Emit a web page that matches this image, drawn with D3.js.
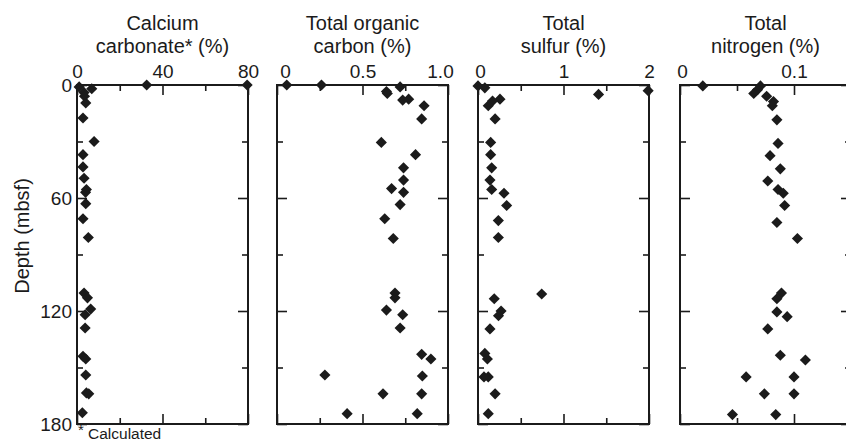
<!DOCTYPE html>
<html>
<head>
<meta charset="utf-8">
<script src="https://cdn.jsdelivr.net/npm/d3@7"></script>
<style>
body{margin:0;background:#fff;}
svg{display:block;font-family:"Liberation Sans",Arial,Helvetica,sans-serif;}
</style>
</head>
<body>
<svg id="chart" width="846" height="442"></svg>
<script>
//depth axis
var depthMajor=[0,60,120,180];
var depthMinor=[30,90,150];

//[depth (mbsf), value]
var caco3=[[0,32.6],[0,79.6],[1,1],[2,6.9],[4,3.3],[6,3.5],[9.5,4.1],[17.5,2.8],[30,8],[37,2.8],[43.5,2.8],[49.5,3.3],[55.5,4.4],[57,4],[63,4.1],[71,2.8],[81,5.3],[110.5,3.3],[113,4.9],[119,6.4],[122,3.8],[129,3.8],[144,2.8],[145.5,4.1],[154,4.1],[163.5,4.4],[164,5.5],[174,2.5]];
var toc=[[0,0.057],[0,0.26],[1,0.72],[3.5,0.64],[4.5,0.645],[7.5,0.77],[8,0.735],[11,0.86],[18,0.846],[30.5,0.61],[37,0.81],[44,0.74],[50.5,0.74],[55,0.67],[57,0.74],[63.5,0.72],[71,0.63],[81.5,0.68],[110.5,0.69],[113,0.69],[119.5,0.64],[122,0.735],[129,0.72],[143,0.846],[145.5,0.9],[154,0.28],[154.5,0.85],[164,0.62],[164,0.846],[174.5,0.41],[174.5,0.82]];
var sulfur=[[0.5,0],[1.5,0.08],[3,1.99],[5,1.41],[7.5,0.257],[8.5,0.17],[11,0.12],[18,0.2],[30.5,0.148],[37,0.148],[44,0.16],[50.5,0.14],[55.5,0.16],[57.5,0.304],[64,0.335],[72,0.238],[81,0.238],[111,0.745],[113.5,0.19],[120,0.27],[122.5,0.24],[129.5,0.14],[142.5,0.08],[145.5,0.11],[155,0.12],[155,0.07],[164,0.2],[174.5,0.12]];
var nitrogen=[[0.5,0.02],[0.5,0.0706],[2.5,0.068],[4.5,0.0647],[6,0.076],[8.8,0.082],[11,0.081],[18.5,0.085],[31,0.086],[37.5,0.079],[44.5,0.088],[51,0.077],[55.5,0.086],[57.5,0.0906],[64,0.0918],[73,0.085],[81.5,0.103],[110.5,0.089],[113.5,0.085],[120.5,0.085],[123,0.094],[129.5,0.077],[143.5,0.088],[146,0.11],[155,0.058],[155,0.1],[164,0.074],[164,0.1],[175,0.046],[175,0.084]];

//panel tick labels
var caco3Major=[0,40,80],caco3Minor=[20,60];
var tocMajor=[0,0.5,1.0],tocMinor=[0.25,0.75];
var sulfurMajor=[0,1,2],sulfurMinor=[0.5,1.5];
var nitrogenMajor=[0,0.1],nitrogenMinor=[0.05,0.15];

var svg=d3.select("#chart");
var ink="#1b1b1b";
var top0=85,bottom0=424;
var y=d3.scaleLinear().domain([0,180]).range([top0,bottom0]);

var panels=[
	{data:caco3,domain:[0,80],x0:77,x1:248,major:caco3Major,minor:caco3Minor,title:["Calcium","carbonate* (%)"],fmt:d3.format("d"),shift:[0,0]},
	{data:toc,domain:[0,1],x0:277,x1:448,major:tocMajor,minor:tocMinor,title:["Total organic","carbon (%)"],fmt:function(d){return d==0?"0":d3.format(".1f")(d);},shift:[8,-8]},
	{data:sulfur,domain:[0,2],x0:478,x1:649,major:sulfurMajor,minor:sulfurMinor,title:["Total","sulfur (%)"],fmt:d3.format("d"),shift:[2,0]},
	{data:nitrogen,domain:[0,0.15],x0:680,x1:851,major:nitrogenMajor,minor:nitrogenMinor,title:["Total","nitrogen (%)"],fmt:function(d){return d==0?"0":d3.format(".1f")(d);},shift:[2,0]}
];

function styleAxis(g){
	g.select(".domain").remove();
	g.selectAll(".tick line").attr("stroke",ink).attr("stroke-width",1.6);
	g.selectAll(".tick text").attr("fill",ink);
}

/*one depth panel*/
function drawPanel(p,i){
	var x=d3.scaleLinear().domain(p.domain).range([p.x0,p.x1]);
	var g=svg.append("g").attr("class","panel"+i);
	var cx=(p.x0+p.x1)/2;

	//title
	g.selectAll(".ttl").data(p.title).enter().append("text")
		.attr("x",cx).attr("y",function(d,k){return 30+k*23;})
		.attr("text-anchor","middle").attr("font-size",20).attr("fill",ink)
		.text(function(d){return d;});

	//top axis with labels
	var topMajor=g.append("g").attr("transform","translate(0,"+top0+")")
		.call(d3.axisTop(x).tickValues(p.major).tickSize(-10).tickPadding(-3).tickFormat(p.fmt));
	styleAxis(topMajor);
	topMajor.selectAll(".tick text").attr("font-size",19).attr("dy","-0.55em")
		.attr("dx",function(d,k){return k==0?p.shift[0]:(k==p.major.length-1?p.shift[1]:0);});
	var topMinor=g.append("g").attr("transform","translate(0,"+top0+")")
		.call(d3.axisTop(x).tickValues(p.minor).tickSize(-6).tickFormat(""));
	styleAxis(topMinor);

	//bottom axis
	var botMajor=g.append("g").attr("transform","translate(0,"+bottom0+")")
		.call(d3.axisBottom(x).tickValues(p.major).tickSize(-10).tickFormat(""));
	styleAxis(botMajor);
	var botMinor=g.append("g").attr("transform","translate(0,"+bottom0+")")
		.call(d3.axisBottom(x).tickValues(p.minor).tickSize(-6).tickFormat(""));
	styleAxis(botMinor);

	//left and right depth ticks
	var leftMajor=g.append("g").attr("transform","translate("+p.x0+",0)")
		.call(d3.axisLeft(y).tickValues(depthMajor).tickSize(-10).tickPadding(5).tickFormat(i==0?d3.format("d"):""));
	styleAxis(leftMajor);
	leftMajor.selectAll(".tick text").attr("font-size",19);
	var leftMinor=g.append("g").attr("transform","translate("+p.x0+",0)")
		.call(d3.axisLeft(y).tickValues(depthMinor).tickSize(-6).tickFormat(""));
	styleAxis(leftMinor);
	var rightMajor=g.append("g").attr("transform","translate("+p.x1+",0)")
		.call(d3.axisRight(y).tickValues(depthMajor).tickSize(-10).tickFormat(""));
	styleAxis(rightMajor);
	var rightMinor=g.append("g").attr("transform","translate("+p.x1+",0)")
		.call(d3.axisRight(y).tickValues(depthMinor).tickSize(-6).tickFormat(""));
	styleAxis(rightMinor);

	//frame
	g.append("rect").attr("x",p.x0).attr("y",top0)
		.attr("width",p.x1-p.x0).attr("height",bottom0-top0)
		.attr("fill","none").attr("stroke",ink).attr("stroke-width",2);

	//diamonds
	var diamond=d3.symbol().type(d3.symbolSquare).size(62);
	g.selectAll(".pt").data(p.data).enter().append("path")
		.attr("class","pt").attr("d",diamond).attr("fill",ink)
		.attr("transform",function(d){return "translate("+x(d[1])+","+y(d[0])+") rotate(45)";});
}

panels.forEach(drawPanel);

//depth title
svg.append("text").attr("transform","translate(29,236) rotate(-90)")
	.attr("text-anchor","middle").attr("font-size",20).attr("fill",ink)
	.text("Depth (mbsf)");

//footnote
svg.append("text").attr("x",78).attr("y",435).attr("font-size",15).attr("fill",ink).text("*");
svg.append("text").attr("x",88).attr("y",439).attr("font-size",15.5).attr("fill",ink).text("Calculated");
</script>
</body>
</html>
